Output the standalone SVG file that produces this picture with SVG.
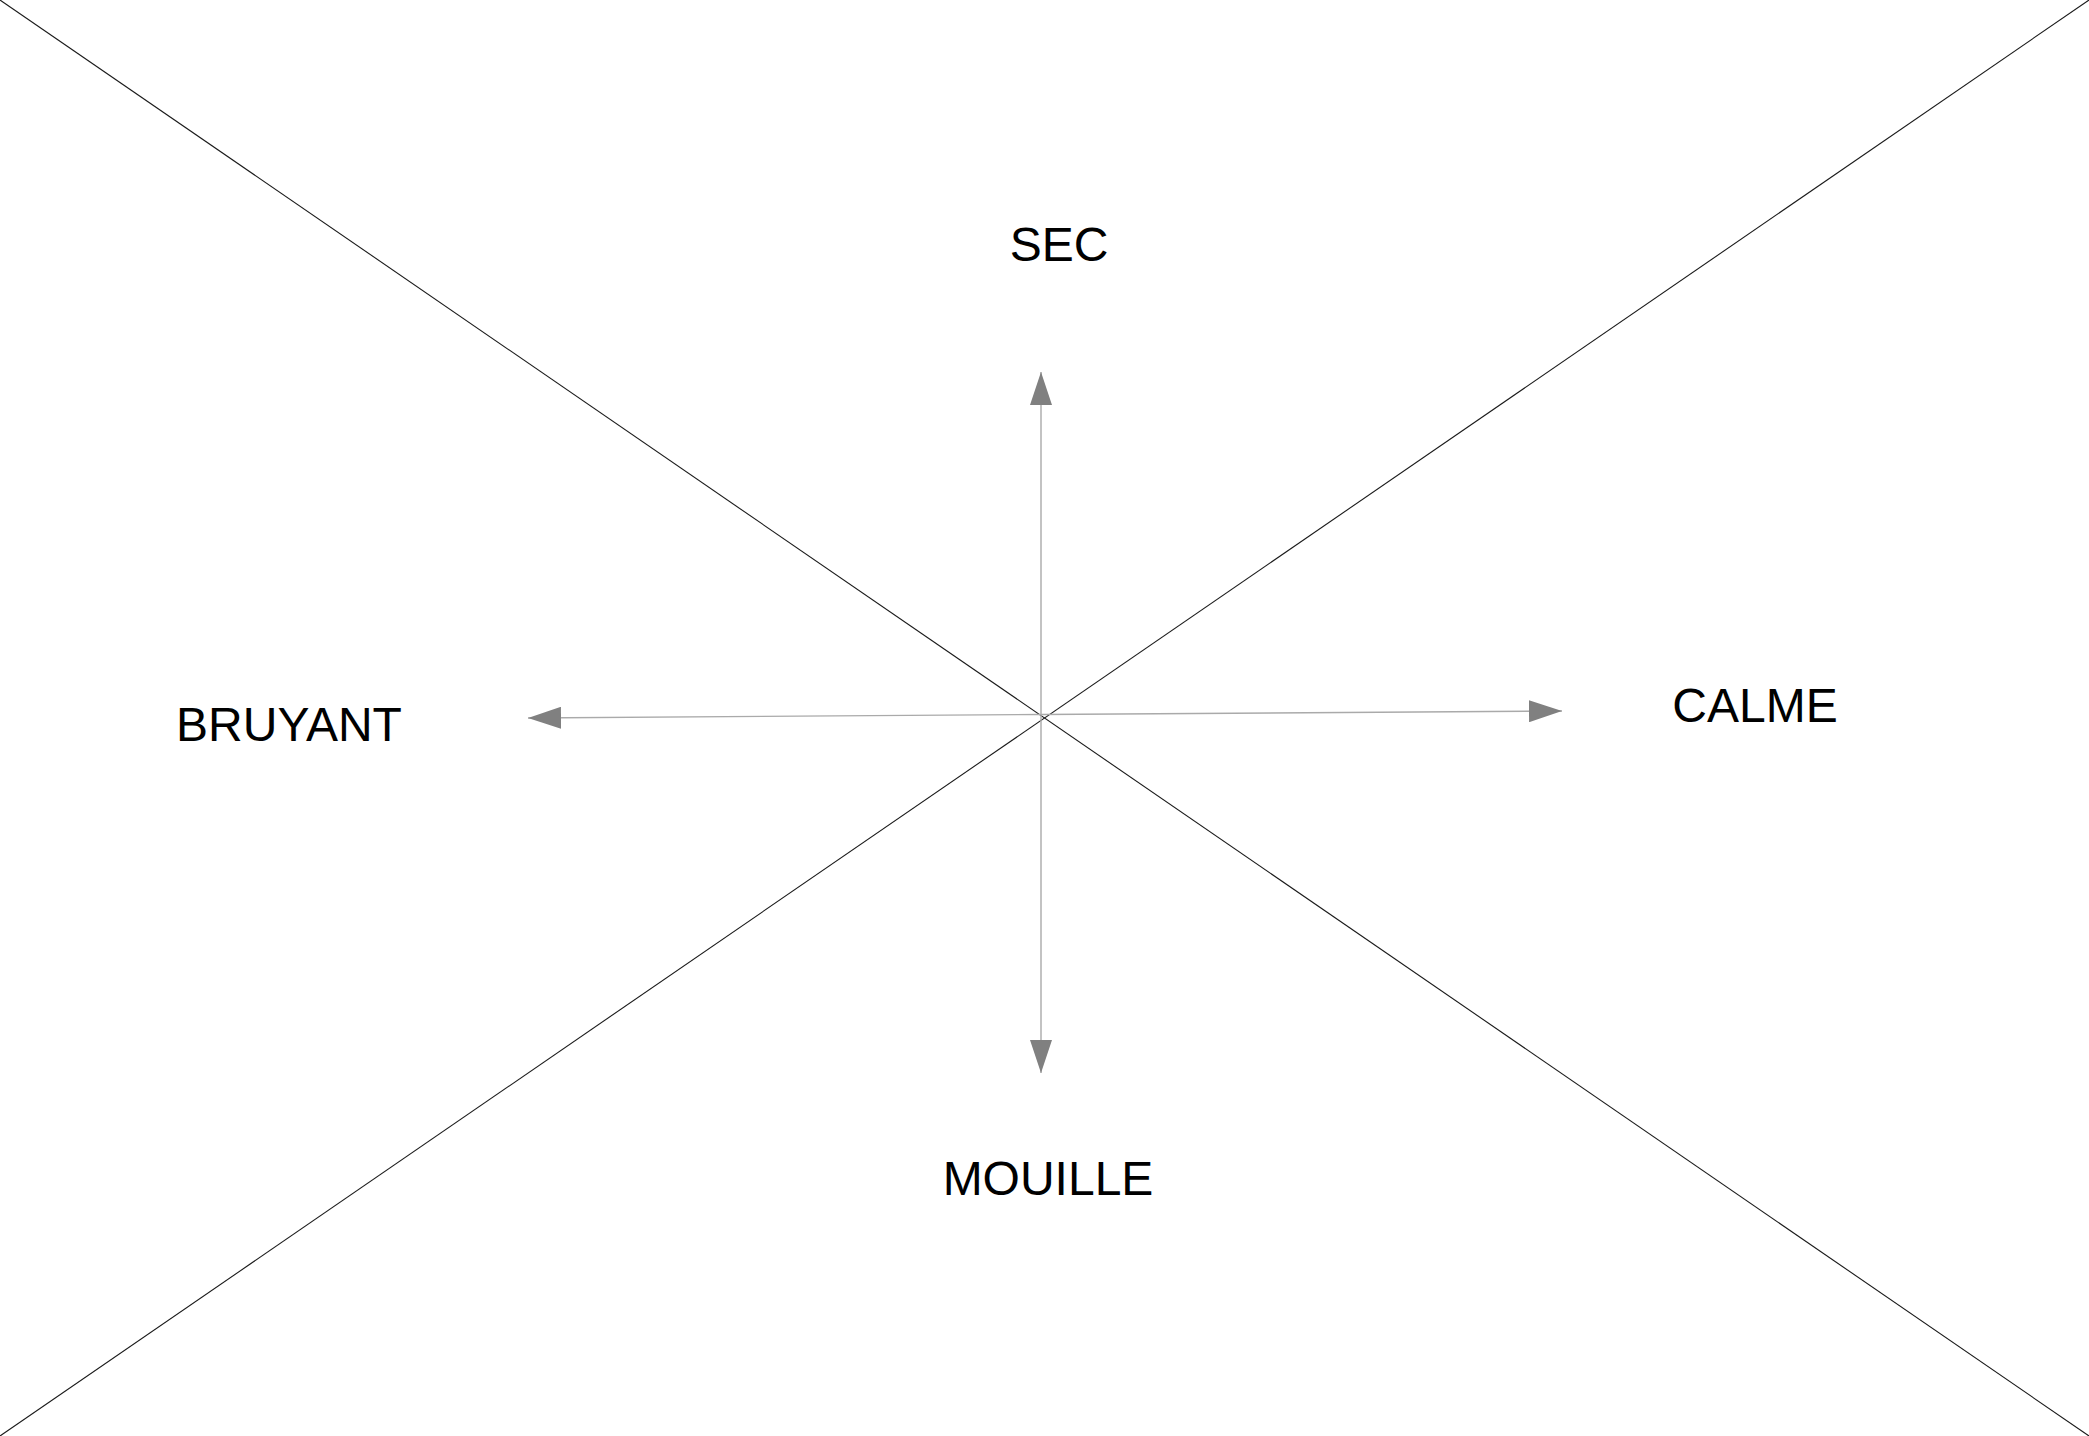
<svg xmlns="http://www.w3.org/2000/svg" width="2089" height="1436" viewBox="0 0 2089 1436">
<style>
.diag{stroke:#1a1a1a;stroke-width:1.1;fill:none}
.axis{stroke:#aaaaaa;stroke-width:1.4;fill:none}
.lbl{font-family:"Liberation Sans",Arial,sans-serif;font-size:48px;fill:#000;text-anchor:middle}
</style>
<defs>
<marker id="ah" viewBox="0 0 33 22" refX="33" refY="11" markerWidth="33" markerHeight="22" markerUnits="userSpaceOnUse" orient="auto">
<path d="M0,0 L33,11 L0,22 Z" fill="#808080"/>
</marker>
</defs>
<rect width="2089" height="1436" fill="#ffffff"/>
<g id="connectors">
<line class="diag" x1="0" y1="0" x2="2089" y2="1436"/>
<line class="diag" x1="2089" y1="0" x2="0" y2="1436"/>
<line class="axis" x1="1041" y1="716" x2="1041" y2="372" marker-end="url(#ah)"/>
<line class="axis" x1="1041" y1="716" x2="1041" y2="1073" marker-end="url(#ah)"/>
<line class="axis" x1="1041" y1="714.5" x2="528" y2="718" marker-end="url(#ah)"/>
<line class="axis" x1="1041" y1="714.5" x2="1562" y2="711" marker-end="url(#ah)"/>
</g>
<g id="sec"><text class="lbl" x="1059" y="261">SEC</text></g>
<g id="bruyant"><text class="lbl" x="289" y="741">BRUYANT</text></g>
<g id="calme"><text class="lbl" x="1755" y="722">CALME</text></g>
<g id="mouille"><text class="lbl" x="1048" y="1195">MOUILLE</text></g>
</svg>
